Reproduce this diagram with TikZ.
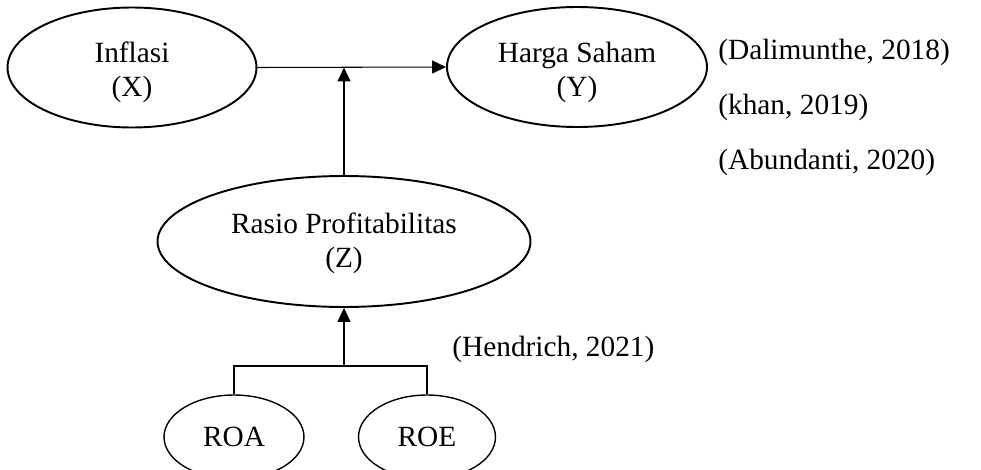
\documentclass[tikz,border=0pt]{standalone}
\usepackage{fontspec}
\setmainfont{Liberation Serif}
\usetikzlibrary{positioning,shapes.geometric,arrows.meta}

% two centred lines, moved down a little inside the ellipse
\newcommand{\twoline}[3]{\raisebox{#3}[\height][\depth]{\begin{tabular}{@{}c@{}}#1\\#2\end{tabular}}}

\begin{document}
\begin{tikzpicture}[x=0.02cm, y=-0.02cm]
  \tikzset{
    v/.style={ellipse, draw=black, line width=1.1pt, inner sep=0pt,
      font=\fontsize{16.7}{19.3}\selectfont},
    sv/.style={v, line width=0.8pt},
    e/.style={draw=black, line width=0.6pt},
    arr/.style={e, -{Triangle[length=0.28cm, width=0.26cm]}},
    src/.style={anchor=west, inner sep=0pt, font=\fontsize{16.7}{19.3}\selectfont}
  }

  % frame of the picture (bottom ellipses are cut by it)
  \useasboundingbox (0,0) rectangle (981,470);
  \clip (0,0) rectangle (981,470);

  % variables
  \node[v, minimum width=4.98cm, minimum height=2.4cm] (infl) at (132,67.5) {\twoline{Inflasi}{(X)}{-3.1pt}};
  \node[v, minimum width=5.2cm, minimum height=2.4cm] (harga) at (577,67) {\twoline{Harga Saham}{(Y)}{-3.3pt}};
  \node[v, minimum width=7.46cm, minimum height=2.62cm] (rasio) at (344,241.5) {\twoline{Rasio Profitabilitas}{(Z)}{-1.2pt}};

  % indicators of Z
  \node[sv, minimum width=2.8cm, minimum height=1.68cm] (roa) at (234,437) {ROA};
  \node[sv, minimum width=2.74cm, minimum height=1.68cm] (roe) at (427,437) {ROE};

  % sources
  \node[src] (dali) at (718,52) {(Dalimunthe, 2018)};
  \node[src] (khan) at (718,107) {(khan, 2019)};
  \node[src] (abun) at (718,162) {(Abundanti, 2020)};
  \node[src] (hend) at (452,349) {(Hendrich, 2021)};

  % connectors
  \coordinate (split) at (344,366);   % where ROA and ROE join
  \draw[arr] (infl.east) -- (harga.west);
  \draw[arr] (rasio.north) -- (rasio.north |- infl.east);
  \draw[e] (roa.north) |- (split) -| (roe.north);
  \draw[arr] (split) -- (rasio.south);
\end{tikzpicture}
\end{document}
